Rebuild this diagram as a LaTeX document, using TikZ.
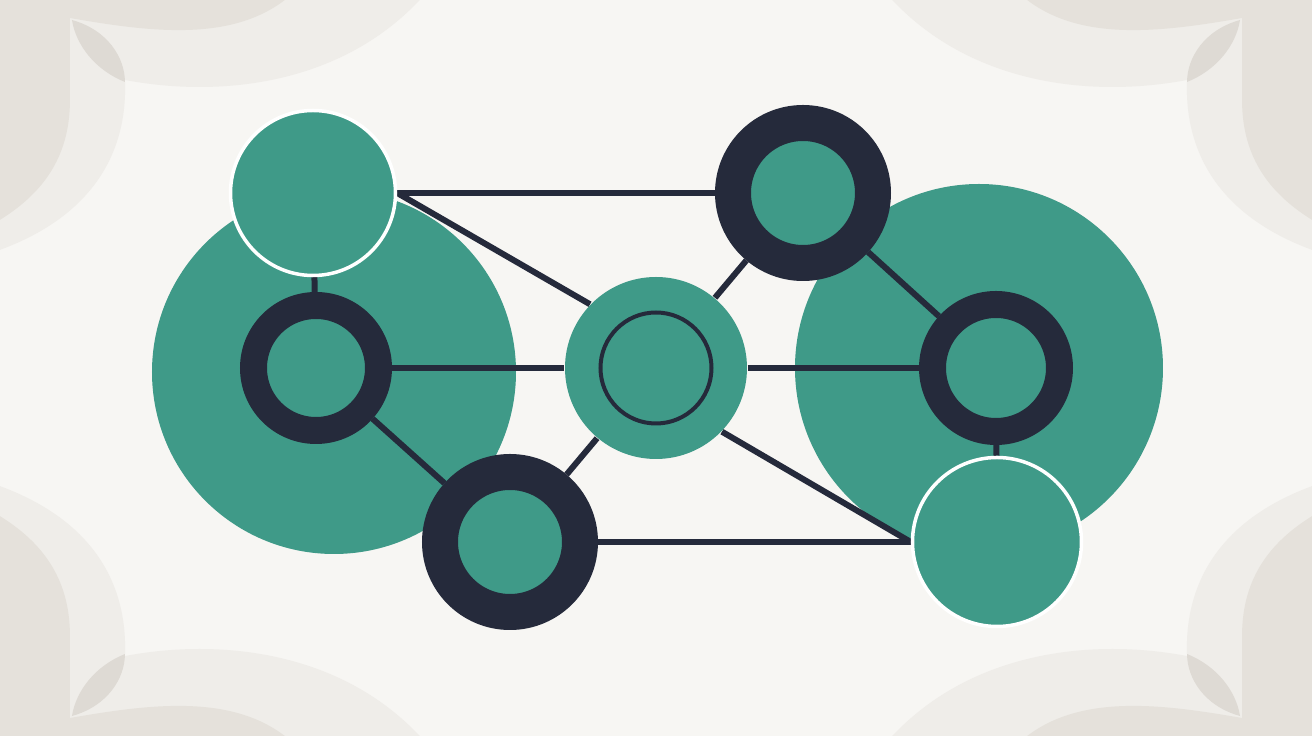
\documentclass[tikz,border=0pt]{standalone}
\usepackage{tikz}
\usetikzlibrary{backgrounds, calc, positioning}
\definecolor{bgpaper}{HTML}{F7F6F3}
\definecolor{shadeA}{HTML}{E5E1DB}
\definecolor{shadeB}{HTML}{EFEDE9}
\definecolor{leafc}{HTML}{DEDAD4}
\definecolor{nodegreen}{HTML}{3F9A88}
\definecolor{ink}{HTML}{252A3B}
\tikzset{
    hub/.style={circle, fill=nodegreen, inner sep=0pt, minimum size=#1},
    ringnode/.style args={#1 #2}{circle, fill=nodegreen, draw=ink, inner sep=0pt, minimum size=#1, line width=#2},
    rimnode/.style={circle, fill=nodegreen, draw=white, inner sep=0pt, line width=0.035cm, minimum size=#1},
    link/.style={draw=ink, line width=0.06cm}
}
% corner ornament, drawn in pixel units from the corner inwards
\newcommand{\paperedge}{
    \fill[shadeB] (0,0) -- (420,0) .. controls (340,85) and (220,98) .. (125,80) .. controls (128,150) and (95,215) .. (0,250) -- cycle;
    \fill[shadeA] (0,0) -- (285,0) .. controls (230,42) and (150,32) .. (70,18) -- (70,100) .. controls (70,160) and (40,195) .. (0,220) -- cycle;
    \fill[leafc] (72,20) .. controls (108,30) and (125,58) .. (125,82) .. controls (95,70) and (76,45) .. (72,20) -- cycle;
}
\begin{document}
\begin{tikzpicture}
    \useasboundingbox (0,0) rectangle (13.12,7.36);
    \node[rimnode=1.65cm] (v1) at (3.13,5.43) {};
    \node[ringnode={1.25cm 0.27cm}] (v2) at (3.16,3.68) {};
    \node[hub=1.82cm] (v3) at (6.56,3.68) {};
    \node[ringnode={1.40cm 0.36cm}] (v4) at (8.03,5.43) {};
    \node[ringnode={1.27cm 0.27cm}] (v5) at (9.96,3.68) {};
    \node[ringnode={1.40cm 0.36cm}] (v6) at (5.10,1.94) {};
    \node[rimnode=1.69cm] (v7) at (9.97,1.94) {};
    \draw[ink, line width=0.04cm] (v3) circle (0.555);
    \begin{scope}[on background layer]
    \fill[bgpaper] (0,0) rectangle (13.12,7.36);
    \begin{scope}[shift={(0,7.36)}, x=0.01cm, y=-0.01cm] \paperedge \end{scope}
    \begin{scope}[shift={(13.12,7.36)}, x=-0.01cm, y=-0.01cm] \paperedge \end{scope}
    \begin{scope}[shift={(0,0)}, x=0.01cm, y=0.01cm] \paperedge \end{scope}
    \begin{scope}[shift={(13.12,0)}, x=-0.01cm, y=0.01cm] \paperedge \end{scope}
    \fill[nodegreen] (3.34,3.64) circle (1.82);
    \fill[nodegreen] (9.79,3.68) circle (1.84);
    \draw[link] (v1) -- (v4);
    \draw[link] (v1.east) -- (v3.136);
    \draw[link] (v1) -- (v2);
    \draw[link] (v2) -- (v3);
    \draw[link] (v2) -- (v6);
    \draw[link] (v6) -- (v3);
    \draw[link] (v3) -- (v4);
    \draw[link] (v4) -- (v5);
    \draw[link] (v3) -- (v5);
    \draw[link] (v5) -- (v7);
    \draw[link] (v6) -- (v7);
    \draw[link] (v3.-44) -- (v7.west);
    \end{scope}
\end{tikzpicture}
\end{document}
